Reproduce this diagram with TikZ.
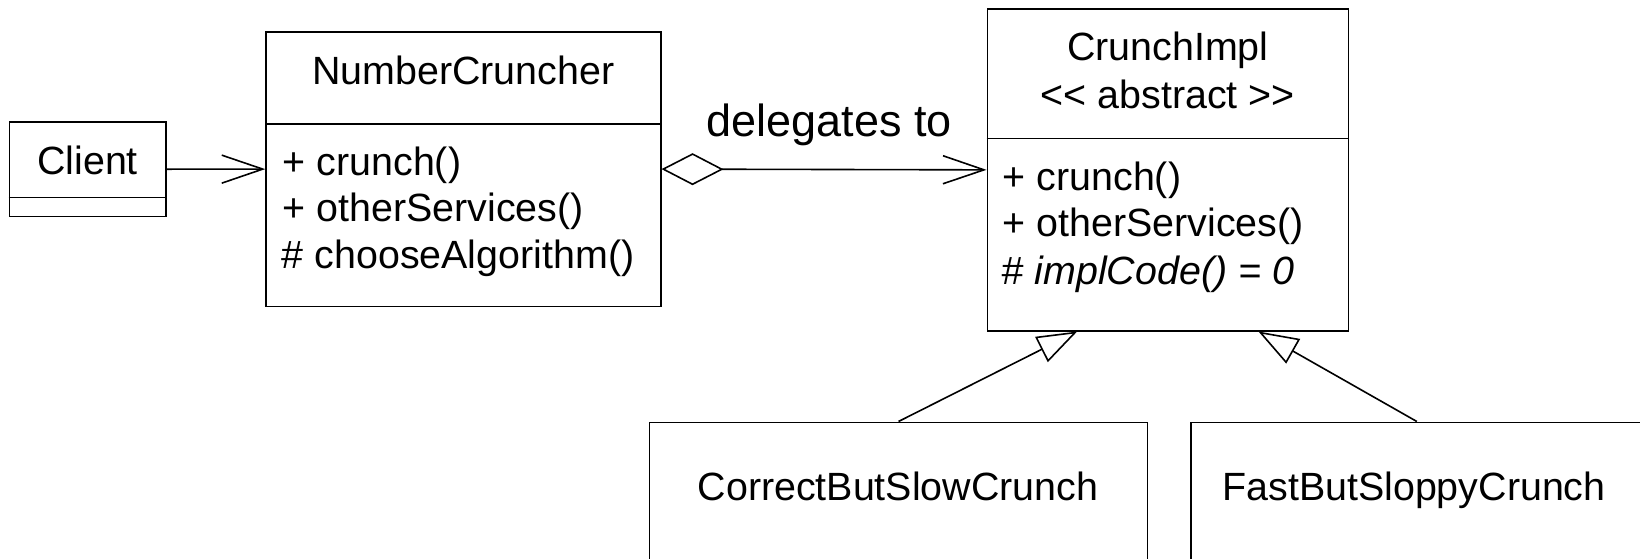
\documentclass[tikz,border=0pt]{standalone}
\usepackage{fontspec}
\setmainfont{Liberation Sans}
\usepackage{tikz}
\usetikzlibrary{arrows.meta, calc}

\begin{document}
\begin{tikzpicture}[x = 0.5pt, y = -0.5pt, line width = 0.8pt,
  classbox/.style = {draw, rectangle, inner sep = 0pt},
  txt/.style = {inner sep = 0pt, font = \fontsize{19.7}{23}\selectfont},
  uses/.style = {-{Straight Barb[length = 20.5pt, width = 14pt]}},
  aggregates/.style = {{Diamond[open, length = 31pt, width = 16pt]}-{Straight Barb[length = 20.5pt, width = 14pt]}},
  inherits/.style = {-{Triangle[open, length = 20pt, width = 14pt]}}]
\useasboundingbox (0,0) rectangle (1640,558);

\node[classbox, minimum width = 78.1pt, minimum height = 47.2pt] (client) at (87.6,169.2) {};
\draw (client.west |- 0,197.3) -- (client.east |- 0,197.3);
\node[txt, anchor = base] (clientname) at (87.6,174) {Client};

\node[classbox, minimum width = 197.35pt, minimum height = 137.2pt] (cruncher) at (463.4,169.1) {};
\draw (cruncher.west |- 0,124) -- (cruncher.east |- 0,124);
\node[txt, anchor = base] (crunchername) at (463.4,84.3) {NumberCruncher};
\node[txt, anchor = base west] (cruncherop1) at (282,175) {+ crunch()};
\node[txt, anchor = base west] (cruncherop2) at (282,221.7) {+ otherServices()};
\node[txt, anchor = base west] (cruncherop3) at (281,268.3) {\# chooseAlgorithm()};

\node[classbox, minimum width = 180.5pt, minimum height = 160.85pt] (impl) at (1167.8,169.85) {};
\draw (impl.west |- 0,138.3) -- (impl.east |- 0,138.3);
\node[txt, anchor = base] (implname) at (1167.8,60) {CrunchImpl};
\node[txt, anchor = base] (implstereo) at (1167.8,108.3) {<\kern0pt< abstract >\kern0pt>};
\node[txt, anchor = base west] (implop1) at (1002,190) {+ crunch()};
\node[txt, anchor = base west] (implop2) at (1002,236.7) {+ otherServices()};
\node[txt, anchor = base west] (implop3) at (1001,284) {\itshape \# implCode() = 0};

\node[classbox, minimum width = 249pt, minimum height = 110pt] (correct) at (898.5,532.3) {};
\node[txt, anchor = base] (correctname) at (898,500) {CorrectButSlowCrunch};
\node[classbox, minimum width = 226.15pt, minimum height = 110pt] (fast) at (1416.85,532.3) {};
\node[txt, anchor = base] (fastname) at (1414,500) {FastButSloppyCrunch};

\coordinate (implleft) at ($(impl.south west)!0.25!(impl.south east)$);
\coordinate (implright) at ($(impl.south west)!0.75!(impl.south east)$);

\draw[uses] (client.east) -- (cruncher.west);
\draw[aggregates] (cruncher.east) -- (impl.west);
\node[anchor = base, inner sep = 0pt, font = \fontsize{22.5}{26}\selectfont] (delegates) at (829.2,136.5) {delegates to};
\draw[inherits] (correct.north) -- (implleft);
\draw[inherits] (fast.north) -- (implright);
\end{tikzpicture}
\end{document}
